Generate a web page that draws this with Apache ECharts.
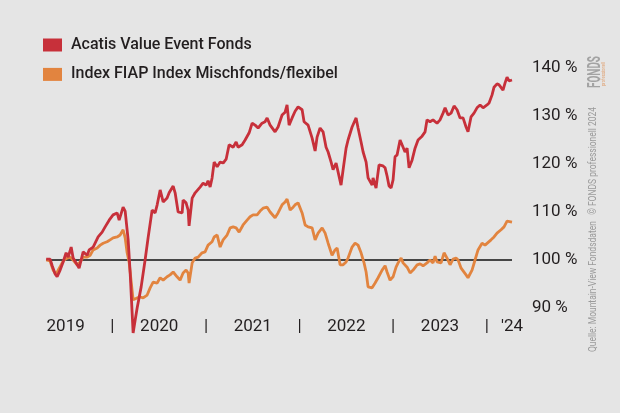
<!DOCTYPE html>
<html><head><meta charset="utf-8">
<script src="https://cdn.jsdelivr.net/npm/echarts@6/dist/echarts.min.js"></script>
<style>html,body{margin:0;padding:0;background:#e5e5e5}#c{width:620px;height:413px}</style>
</head><body><div id="c"></div>
<script>
const seriesNames = ['Acatis Value Event Fonds', 'Index FIAP Index Mischfonds/flexibel'];

const acatisTime = [2019.292,2019.334,2019.356,2019.388,2019.409,2019.441,2019.473,2019.505,2019.527,2019.559,2019.580,2019.623,2019.644,2019.687,2019.730,2019.751,2019.794,2019.847,2019.890,2019.922,2019.965,2020.007,2020.050,2020.072,2020.114,2020.136,2020.168,2020.189,2020.210,2020.221,2020.243,2020.264,2020.307,2020.349,2020.381,2020.424,2020.456,2020.478,2020.510,2020.542,2020.584,2020.606,2020.649,2020.670,2020.702,2020.745,2020.755,2020.787,2020.809,2020.819,2020.852,2020.884,2020.937,2020.969,2021.001,2021.022,2021.044,2021.065,2021.087,2021.119,2021.151,2021.183,2021.215,2021.247,2021.290,2021.322,2021.343,2021.386,2021.418,2021.461,2021.493,2021.525,2021.557,2021.599,2021.631,2021.653,2021.685,2021.738,2021.770,2021.813,2021.845,2021.866,2021.888,2021.920,2021.952,2021.984,2022.027,2022.048,2022.091,2022.134,2022.166,2022.187,2022.219,2022.251,2022.283,2022.305,2022.337,2022.358,2022.390,2022.411,2022.443,2022.465,2022.497,2022.518,2022.561,2022.604,2022.625,2022.657,2022.679,2022.711,2022.732,2022.775,2022.785,2022.817,2022.828,2022.849,2022.892,2022.914,2022.935,2022.956,2022.978,2022.999,2023.020,2023.042,2023.074,2023.106,2023.127,2023.149,2023.170,2023.202,2023.234,2023.266,2023.309,2023.341,2023.362,2023.394,2023.426,2023.469,2023.501,2023.533,2023.555,2023.587,2023.619,2023.651,2023.683,2023.715,2023.747,2023.779,2023.800,2023.832,2023.864,2023.896,2023.929,2023.961,2024.003,2024.025,2024.057,2024.078,2024.110,2024.132,2024.174,2024.196,2024.217,2024.238,2024.270];
const acatisValues = [100.2,100.2,98.8,97.1,96.5,97.9,99.6,101.5,100.6,102.7,100.4,99.0,98.3,101.7,101.0,102.1,102.7,104.8,105.8,106.9,108.3,109.4,109.8,108.3,111.0,110.2,104.2,97.5,89.2,84.8,87.5,90.0,94.4,100.0,104.6,110.4,109.8,111.5,114.6,112.1,112.9,114.0,115.4,114.0,110.0,109.8,112.5,111.9,110.4,107.1,112.9,114.0,115.2,116.0,115.6,116.5,115.2,117.1,120.4,119.4,120.4,120.2,121.0,124.0,123.5,124.6,123.5,124.0,125.0,126.5,128.5,128.1,127.5,128.5,128.8,129.6,128.1,126.7,127.7,130.2,130.8,132.3,128.1,129.6,131.0,131.9,131.3,128.8,128.1,125.4,122.7,125.6,127.5,126.7,123.5,122.5,120.4,118.8,120.2,119.8,115.6,118.8,123.3,125.0,127.7,129.6,127.5,124.6,122.5,120.4,117.1,115.6,117.1,115.0,116.7,119.8,119.6,119.2,117.5,115.4,115.0,116.7,121.5,121.9,125.0,123.5,122.5,123.3,119.2,120.8,123.3,125.0,125.8,126.7,129.2,128.8,129.2,128.5,129.2,130.6,131.7,130.2,130.6,132.1,131.3,129.6,129.6,127.7,126.7,129.8,130.6,131.7,132.3,131.7,132.3,132.7,134.4,136.0,136.7,136.5,135.4,136.9,138.1,137.3,137.5];

const indexTime = [2019.292,2019.334,2019.366,2019.398,2019.420,2019.463,2019.484,2019.516,2019.548,2019.580,2019.623,2019.655,2019.687,2019.730,2019.762,2019.794,2019.837,2019.869,2019.901,2019.943,2019.975,2020.007,2020.050,2020.082,2020.114,2020.136,2020.157,2020.178,2020.221,2020.264,2020.296,2020.328,2020.371,2020.403,2020.435,2020.478,2020.510,2020.542,2020.584,2020.616,2020.649,2020.691,2020.723,2020.755,2020.787,2020.809,2020.819,2020.852,2020.884,2020.916,2020.958,2020.990,2021.022,2021.065,2021.087,2021.119,2021.151,2021.183,2021.225,2021.258,2021.290,2021.322,2021.354,2021.396,2021.439,2021.471,2021.503,2021.546,2021.578,2021.610,2021.653,2021.685,2021.738,2021.770,2021.813,2021.845,2021.866,2021.899,2021.931,2021.952,2021.984,2022.027,2022.059,2022.091,2022.134,2022.166,2022.198,2022.241,2022.273,2022.305,2022.347,2022.379,2022.401,2022.433,2022.465,2022.497,2022.518,2022.561,2022.593,2022.625,2022.657,2022.689,2022.711,2022.732,2022.775,2022.807,2022.839,2022.882,2022.914,2022.935,2022.967,2022.999,2023.031,2023.053,2023.085,2023.106,2023.149,2023.181,2023.213,2023.256,2023.288,2023.320,2023.362,2023.394,2023.426,2023.448,2023.469,2023.512,2023.544,2023.576,2023.608,2023.640,2023.672,2023.694,2023.726,2023.747,2023.779,2023.800,2023.843,2023.875,2023.907,2023.950,2023.982,2024.003,2024.046,2024.078,2024.110,2024.153,2024.185,2024.217,2024.238,2024.270];
const indexValues = [100.0,99.8,97.9,96.9,97.9,99.4,100.0,100.4,100.6,100.0,99.0,99.6,100.6,100.6,101.0,102.1,102.5,103.1,103.5,103.8,104.2,104.6,104.8,105.2,106.3,104.6,101.5,99.6,91.7,92.1,92.3,92.1,92.7,94.2,95.4,95.2,96.3,95.8,96.5,96.9,97.5,96.5,95.8,97.3,97.9,97.3,95.2,99.4,100.4,100.6,101.5,101.7,103.1,103.8,104.8,105.2,102.7,104.2,105.2,106.7,106.9,106.7,105.8,107.3,108.3,109.0,109.4,109.4,110.2,110.8,111.0,110.0,108.8,109.8,111.5,112.1,112.7,110.4,111.0,111.5,111.9,109.8,107.3,106.9,106.7,104.2,105.6,106.7,105.6,103.5,101.0,102.1,102.5,99.0,99.0,99.6,100.4,102.7,103.5,103.1,101.5,99.4,97.5,94.4,94.2,95.2,96.3,97.9,98.8,97.5,95.8,96.5,98.5,99.4,100.4,99.4,98.5,97.3,97.9,99.0,99.2,98.8,99.4,100.0,99.4,100.8,99.6,99.4,101.5,100.4,99.0,100.2,100.4,100.0,98.3,97.9,96.9,96.3,97.9,100.0,102.1,103.5,103.1,102.7,104.2,104.8,105.6,106.3,106.9,108.1,107.7,107.9];

const xTickValues = [2019.5, 2020, 2020.5, 2021, 2021.5, 2022, 2022.5, 2023, 2023.5, 2024, 2024.27];
const xTickLabels = ['2019', '|', '2020', '|', '2021', '|', '2022', '|', '2023', '|', "'24"];
const yTickValues = [90, 100, 110, 120, 130, 140];
const baselineValue = 100;
const creditText = 'Quelle: Mountain-View Fondsdaten   \u00A9 FONDS professionell 2024';

const FONT = "Roboto, 'Liberation Sans', sans-serif";
const mctx = document.createElement('canvas').getContext('2d');
function mw(font, s) { mctx.font = font; return mctx.measureText(s).width; }
// horizontal squeeze factors for the rotated side texts so they occupy the same length as in the reference
const creditFont = "11px " + FONT;
const creditScale = 245 / mw(creditFont, creditText);
const logoFont = "bold 19px " + FONT;
const logoScale = 32 / mw(logoFont, 'FONDS');
const profFont = "6px " + FONT;
const profScale = 24 / mw(profFont, 'professionell');

const zip = (a, b) => a.map((t, i) => [t, b[i]]);

const chart = echarts.init(document.getElementById('c'), null, {renderer: 'canvas'});
chart.setOption({
  backgroundColor: '#e5e5e5',
  animation: false,
  textStyle: {fontFamily: FONT},
  legend: {
    orient: 'vertical', left: 43, top: 37, itemGap: 13.4, padding: 0,
    itemWidth: 19, itemHeight: 13, icon: 'rect',
    data: seriesNames,
    textStyle: {fontFamily: FONT, fontSize: 16, fontWeight: 500, lineHeight: 16, color: '#231f20', padding: [0, 0, 0, 4]}
  },
  grid: {left: 46, right: 108, top: 68, bottom: 95.4, containLabel: false},
  xAxis: {
    type: 'value', min: 2019.29, max: 2024.27,
    axisLine: {show: false}, axisTick: {show: false}, splitLine: {show: false},
    axisLabel: {
      customValues: xTickValues, showMinLabel: true, showMaxLabel: true,
      margin: 1, fontFamily: FONT, fontSize: 17, color: '#231f20',
      formatter: v => { const i = xTickValues.findIndex(t => Math.abs(t - v) < 1e-6); return i >= 0 ? xTickLabels[i] : ''; }
    }
  },
  yAxis: {
    type: 'value', position: 'right', min: 88, max: 140,
    axisLine: {show: false}, axisTick: {show: false}, splitLine: {show: false},
    axisLabel: {customValues: yTickValues, margin: 20, fontFamily: FONT, fontSize: 17, color: '#231f20', formatter: '{value} %'}
  },
  graphic: [
    {type: 'text', x: 593, y: 352, rotation: Math.PI / 2, scaleX: creditScale, scaleY: 1,
      style: {text: creditText, font: creditFont, fill: '#9a9a9a', align: 'left', verticalAlign: 'middle'}},
    {type: 'text', x: 595, y: 88, rotation: Math.PI / 2, scaleX: logoScale, scaleY: 1,
      style: {text: 'FONDS', font: logoFont, fill: '#a3a3a3', align: 'left', verticalAlign: 'middle'}},
    {type: 'text', x: 603, y: 86, rotation: Math.PI / 2, scaleX: profScale, scaleY: 1,
      style: {text: 'professionell', font: profFont, fill: '#e0a070', align: 'left', verticalAlign: 'middle'}}
  ],
  series: [
    {name: seriesNames[0], type: 'line', data: zip(acatisTime, acatisValues), showSymbol: false, symbol: 'none',
      clip: false, z: 4, color: '#c7303a', lineStyle: {width: 2.8, color: '#c7303a'},
      markLine: {silent: true, symbol: 'none', label: {show: false}, z: 1,
        lineStyle: {color: '#111', width: 1.5, type: 'solid'}, data: [{yAxis: baselineValue}]}},
    {name: seriesNames[1], type: 'line', data: zip(indexTime, indexValues), showSymbol: false, symbol: 'none',
      clip: false, z: 3, color: '#e2843f', lineStyle: {width: 2.8, color: '#e2843f'}}
  ]
});
</script></body></html>
